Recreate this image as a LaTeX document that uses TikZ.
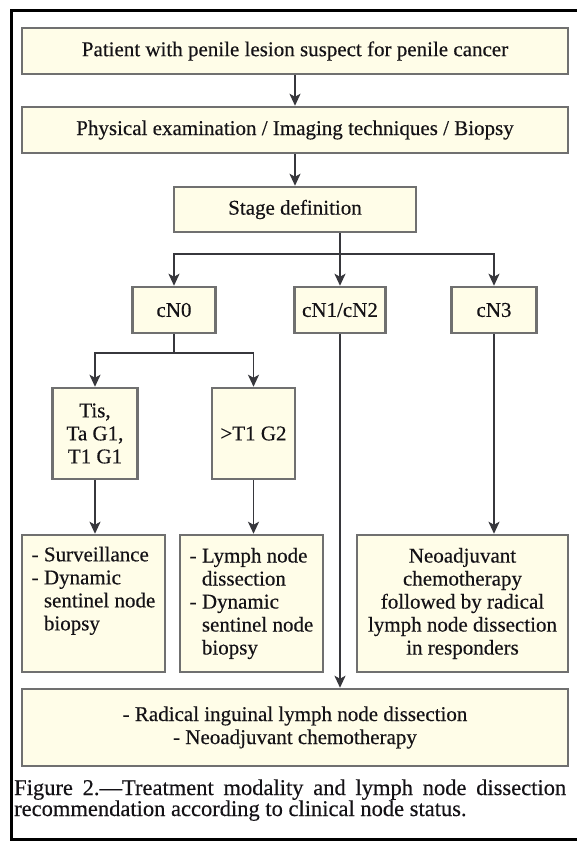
\documentclass[tikz,border=0pt]{standalone}
\usepackage{fontspec}
\setmainfont{Liberation Serif}
\newfontfamily\boxfont{Liberation Serif}[FakeBold=0.35,Ligatures=TeX]
\usetikzlibrary{arrows.meta}
\definecolor{boxfill}{RGB}{255,253,232}
\definecolor{boxdraw}{RGB}{112,112,112}
\definecolor{linecol}{RGB}{55,55,60}
\definecolor{txtcol}{RGB}{20,18,22}
\begin{document}
\begin{tikzpicture}[x=1pt,y=-1pt,
  box/.style={draw=boxdraw, fill=boxfill, line width=2.5pt, inner sep=0pt,
    text=txtcol, font=\boxfont\fontsize{21}{23}\selectfont},
  arr/.style={draw=linecol, line width=1.8pt, -{Stealth[length=12pt,width=11pt,inset=3pt]}},
  conn/.style={draw=linecol, line width=1.8pt},
  capt/.style={text=txtcol, inner sep=0pt, font=\boxfont\fontsize{22.5}{22}\selectfont}]
\useasboundingbox (0,0) rectangle (576,841);
\fill[white] (0,0) rectangle (576,841);
\draw[line width=3pt, black] (600,10.5) -- (11.5,10.5) -- (11.5,839.5) -- (600,839.5);

\node[box, minimum width=546pt, minimum height=46pt] (top) at (295,51) {Patient with penile lesion suspect for penile cancer};
\node[box, minimum width=546pt, minimum height=46pt] (phys) at (295,130) {Physical examination / Imaging techniques / Biopsy};
\node[box, minimum width=242pt, minimum height=45pt] (stage) at (295,209.5) {Stage definition};

\node[box, minimum width=83pt, minimum height=46pt] (cn0) at (174,310) {cN0};
\node[box, minimum width=91pt, minimum height=46pt] (cn12) at (340,310) {cN1/cN2};
\node[box, minimum width=85pt, minimum height=46pt] (cn3) at (494,310) {cN3};

\node[box, minimum width=85pt, minimum height=91pt, align=center] (tis) at (95,433.5) {Tis,\\Ta G1,\\T1 G1};
\node[box, minimum width=83pt, minimum height=91pt] (t1g2) at (253.5,433.5) {>T1 G2};

\node[box, minimum width=143pt, minimum height=137pt, align=left] (surv) at (93.5,603.5)
  {-~Surveillance\\-~Dynamic\\\hphantom{-~}sentinel node\\\hphantom{-~}biopsy\\\strut};
\node[box, minimum width=143pt, minimum height=137pt, align=left] (lymph) at (251.5,603.5)
  {-~Lymph node\\\hphantom{-~}dissection\\-~Dynamic\\\hphantom{-~}sentinel node\\\hphantom{-~}biopsy};
\node[box, minimum width=211pt, minimum height=137pt, align=center] (neo) at (462.5,603.5)
  {Neoadjuvant\\chemotherapy\\followed by radical\\lymph node dissection\\in responders};

\node[box, minimum width=546pt, minimum height=77pt, align=center] (bottom) at (295,727.5)
  {- Radical inguinal lymph node dissection\\- Neoadjuvant chemotherapy};

\node[capt, anchor=base west] (cap1) at (14,795)
  {\makebox[552pt][s]{Figure 2.—Treatment modality and lymph node dissection}};
\node[capt, anchor=base west] (cap2) at (14,816)
  {recommendation according to clinical node status.};

\coordinate (br1) at (340,254);
\coordinate (lvl2) at (0,353);

\draw[arr] (top.south) -- (phys.north);
\draw[arr] (phys.south) -- (stage.north);
\draw[arr] (stage.south -| cn12.north) -- (cn12.north);
\draw[arr] (br1) -| (cn0.north);
\draw[arr] (br1) -| (cn3.north);

\draw[conn] (cn0.south) -- (cn0.south |- lvl2);
\draw[arr] (cn0.south |- lvl2) -| (tis.north);
\draw[arr] (cn0.south |- lvl2) -| (t1g2.north);

\draw[arr] (tis.south) -- (tis.south |- surv.north);
\draw[arr] (t1g2.south) -- (t1g2.south |- lymph.north);
\draw[arr] (cn12.south) -- (cn12.south |- bottom.north);
\draw[arr] (cn3.south) -- (cn3.south |- neo.north);
\end{tikzpicture}
\end{document}
